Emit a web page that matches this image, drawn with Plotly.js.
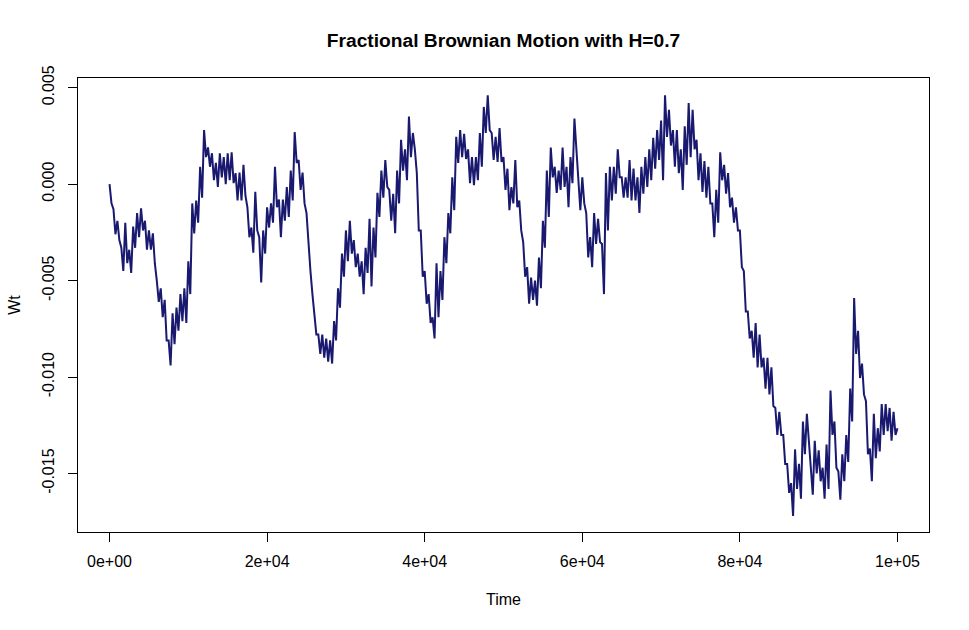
<!DOCTYPE html>
<html>
<head>
<meta charset="utf-8">
<script src="https://cdn.plot.ly/plotly-3.0.1.min.js"></script>
<style>
  html, body { margin: 0; padding: 0; background: #ffffff; }
  #fbm { width: 969px; height: 630px; }
</style>
</head>
<body>
<div id="fbm"></div>
<script>
// Sample path: for every 500 time steps the upper and
// lower edge of the trace, in units of 1e-3.
const stepSize = 500;
const wtHigh = [
  0.0, -1.3, -1.9, -3.3, -2.0, -3.4, -2.2, -1.5, -1.25, -1.9,
  -2.4, -2.55, -5.0, -5.4, -6.0, -8.1, -6.7, -6.4, -5.7, -5.4,
  -4.0, -1.0, -0.85, 0.9, 2.8, 1.9, 1.6, 1.1, 1.6, 1.4,
  1.6, 1.65, 0.57, 0.6, 1.0, -1.2, -2.25, -0.4, -2.75, -2.4,
  -1.2, -1.0, 0.9, -0.8, -0.8, -0.15, 0.7, 2.7, 1.25, 0.6,
  -1.5, -4.5, -6.6, -7.8, -7.8, -8.0, -8.1, -7.1, -5.4, -3.6,
  -2.4, -1.9, -2.9, -3.6, -4.0, -3.3, -1.8, -2.25, -0.45, 0.7,
  1.25, -0.3, -0.5, 0.7, 2.3, 1.8, 3.5, 2.65, 0.57, -2.4,
  -4.5, -5.7, -6.9, -4.1, -4.5, -2.75, -1.5, 0.35, 2.45, 2.8,
  2.6, 1.8, 1.4, 1.4, 2.65, 4.0, 4.6, 2.65, 2.45, 2.9,
  1.4, 0.8, -0.15, 1.25, -0.85, -3.0, -4.3, -4.85, -5.0, -3.8,
  -1.9, 0.7, 1.9, 0.9, 0.7, 1.9, 0.9, 1.4, 3.4, 0.7,
  0.35, -1.5, -2.75, -1.5, -1.8, -3.1, 0.57, 0.9, 0.9, 1.8,
  0.35, 0.35, 1.25, 0.8, 0.35, 0.9, 1.4, 1.8, 2.4, 2.8,
  3.3, 4.6, 3.85, 2.8, 2.8, 1.8, 3.0, 4.2, 3.85, 2.3,
  1.6, 1.2, 0.9, -1.0, -0.3, 1.65, 1.0, 0.57, -0.7, -1.2,
  -2.4, -4.5, -6.6, -7.6, -7.2, -7.8, -9.0, -9.0, -9.5, -11.6,
  -11.8, -13.0, -14.5, -15.5, -13.75, -14.5, -12.3, -11.9, -14.7, -13.3,
  -13.8, -14.7, -13.5, -10.7, -12.3, -14.9, -14.0, -13.0, -10.6, -5.9,
  -7.6, -9.3, -11.25, -13.7, -11.9, -12.65, -11.4, -11.4, -11.6, -11.8,
  -12.65
];
const wtLow = [
  -1.0, -2.6, -2.9, -4.5, -4.1, -4.6, -3.3, -2.75, -2.4, -3.4,
  -3.4, -4.1, -6.1, -6.9, -8.1, -9.4, -8.3, -7.6, -7.1, -7.2,
  -5.7, -2.55, -2.0, -0.7, 1.4, 0.9, 0.2, -0.15, 0.35, 0.0,
  0.2, 0.05, -0.85, -0.85, -0.6, -2.75, -3.55, -2.4, -5.1, -3.6,
  -2.25, -2.0, -1.2, -2.75, -1.9, -1.7, -0.85, 1.1, -0.3, -1.0,
  -3.2, -5.7, -7.8, -8.8, -9.0, -9.2, -9.3, -8.1, -6.4, -4.8,
  -4.0, -3.6, -4.3, -4.8, -5.7, -4.6, -5.3, -3.8, -1.7, -0.7,
  -0.15, -1.9, -2.55, -1.0, 0.7, 0.2, 1.4, 1.8, -2.4, -4.8,
  -6.2, -7.2, -8.0, -6.9, -6.0, -4.1, -2.55, -1.35, 1.1, 1.4,
  1.3, 0.05, -0.05, 0.2, 0.9, 2.65, 2.8, 1.25, 1.15, 1.15,
  -0.3, -1.35, -1.0, -1.2, -2.4, -4.8, -6.2, -6.0, -6.3, -5.4,
  -3.3, -1.7, 0.35, -0.45, -0.3, -0.15, -1.2, 0.05, 1.8, -1.35,
  -1.0, -3.8, -4.3, -3.1, -3.0, -5.7, -2.4, -0.85, -0.5, 0.35,
  -0.7, -0.7, -0.85, -0.85, -1.5, -0.5, -0.15, 0.2, 0.8, 1.25,
  0.2, 2.45, 2.0, 0.9, 0.57, -0.3, 1.0, 1.4, 1.8, 0.2,
  -0.4, -0.7, -1.0, -2.75, -2.0, 0.2, -0.5, -1.2, -2.0, -2.4,
  -4.3, -6.6, -8.0, -9.0, -9.5, -9.5, -10.6, -10.9, -11.5, -13.0,
  -13.0, -14.5, -16.0, -17.2, -15.8, -16.3, -14.0, -13.5, -16.1, -15.0,
  -15.4, -16.3, -15.8, -13.0, -14.7, -16.35, -15.4, -14.4, -12.3, -8.8,
  -10.05, -10.9, -14.0, -15.4, -14.2, -13.85, -13.0, -12.8, -13.3, -13.0,
  -13.7
];

const xTickVals = [0, 20000, 40000, 60000, 80000, 100000];
const xTickText = ['0e+00', '2e+04', '4e+04', '6e+04', '8e+04', '1e+05'];
const yTickVals = [-0.015, -0.010, -0.005, 0.000, 0.005];
const yTickText = ['-0.015', '-0.010', '-0.005', '0.000', '0.005'];

// zigzag between the upper and lower edge so the trace keeps its texture
const time = [];
const wt = [];
wtHigh.forEach((hi, i) => {
    time.push(i * stepSize);
    wt.push(hi * 1e-3);
    if (i < wtHigh.length - 1) {
        time.push(i * stepSize + stepSize / 2);
        wt.push(wtLow[i] * 1e-3);
    }
});

const axisFont = { family: 'Liberation Sans, Arial, sans-serif', size: 16, color: '#000000' };

const trace = {
    x: time,
    y: wt,
    type: 'scatter',
    mode: 'lines',
    line: { color: '#191970', width: 2 },
    hoverinfo: 'x+y',
    showlegend: false
};

const layout = {
    width: 969,
    height: 630,
    margin: { l: 78, r: 40, t: 78, b: 98 },
    paper_bgcolor: '#ffffff',
    plot_bgcolor: '#ffffff',
    font: axisFont,
    title: {
        text: '<b>Fractional Brownian Motion with H=0.7</b>',
        font: { family: 'Liberation Sans, Arial, sans-serif', size: 19.2, color: '#000000' },
        xref: 'paper', x: 0.5, xanchor: 'center',
        yref: 'container', y: 1 - 40 / 630, yanchor: 'middle'
    },
    xaxis: {
        range: [-4000, 104000],
        showgrid: false,
        zeroline: false,
        showline: true,
        mirror: true,
        linecolor: '#000000',
        linewidth: 1,
        ticks: 'outside',
        ticklen: 9,
        tickcolor: '#000000',
        tickvals: xTickVals,
        ticktext: xTickText,
        ticklabelstandoff: 6,
        tickfont: axisFont,
        title: { text: 'Time', font: axisFont, standoff: 24 }
    },
    yaxis: {
        range: [-0.01803, 0.0055],
        showgrid: false,
        zeroline: false,
        showline: true,
        mirror: true,
        linecolor: '#000000',
        linewidth: 1,
        ticks: 'outside',
        ticklen: 9,
        tickcolor: '#000000',
        tickvals: yTickVals,
        ticktext: yTickText,
        tickangle: -90,
        ticklabelstandoff: 8,
        tickfont: axisFont,
        title: { text: 'Wt', font: axisFont, standoff: 14 }
    }
};

Plotly.newPlot('fbm', [trace], layout, { displayModeBar: false, staticPlot: true });
</script>
</body>
</html>
